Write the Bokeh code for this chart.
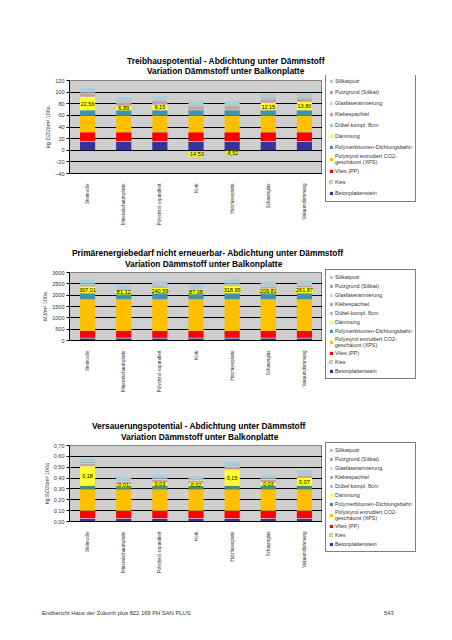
import math
from bokeh.plotting import figure
from bokeh.models import (ColumnDataSource, Range1d, FixedTicker, Legend, LegendItem,
                          LabelSet, Div, FactorRange, CustomJSTickFormatter)
from bokeh.layouts import column, row
from bokeh.core.properties import value
from bokeh.embed import file_html
from bokeh.resources import INLINE

FONT = "Liberation Sans"

categories = ["Steinwolle", "Mineralschaumplatte", "Polystyrol expandiert", "Kork",
              "Holzfaserplatte", "Schaumglas", "Vakuumdämmung"]

layers = ["Betonplattenstein", "Kies", "Vlies (PP)",
          "Polystyrol extrudiert CO2-\ngeschäumt (XPS)",
          "Polymerbitumen-Dichtungsbahn", "Dämmung", "Dübel kompl. 8cm",
          "Klebespachtel", "Glasfaserarmierung", "Putzgrund (Silikat)", "Silikatputz"]

colors = ["#33339A", "#FFFFDD", "#FF0000", "#FFC000", "#3E93AA", "#FFFF33",
          "#A9C4E0", "#C8A0A0", "#DADAC8", "#A8A8A8", "#A6CEDD"]
colors3 = ["#33339A", "#FFFFDD", "#FF0000", "#FFC000", "#4E8E6E", "#FFFF33",
           "#A9C4E0", "#C8A0A0", "#DADAC8", "#A8A8A8", "#A6CEDD"]

# Treibhauspotential (kg CO2ä/m² 100a): constant layers (None = Dämmung, varies)
gwp_layers = [14.5, 0.8, 15.7, 29.0, 9.0, None, 1.0, 5.5, 1.5, 1.0, 6.5]
gwp_daemmung = [22.56, 6.89, 9.15, -14.53, -8.52, 12.15, 13.80]
gwp_ticks = [-40, -20, 0, 20, 40, 60, 80, 100, 120]

# Primärenergiebedarf nicht erneuerbar (MJ/m² 100a)
pe_layers = [100, 20, 300, 1400, 260, None, 15, 60, 25, 20, 180]
pe_daemmung = [307.01, 81.12, 240.59, 87.08, 318.95, 209.81, 261.87]
pe_ticks = [0, 500, 1000, 1500, 2000, 2500, 3000]

# Versauerungspotential (kg SO2ä/m² 100a)
ap_layers = [0.025, 0.004, 0.071, 0.195, 0.035, None, 0.004, 0.02, 0.008, 0.006, 0.032]
ap_daemmung = [0.18, 0.01, 0.03, 0.02, 0.15, 0.03, 0.07]
ap_ticks = [0.0, 0.1, 0.2, 0.3, 0.4, 0.5, 0.6, 0.7]

MAIN_W = 322
LEG_W = 114


def title_div(line1, line2, left1, left2, top1, top2, h):
    st = ("position:absolute;white-space:nowrap;font-family:'Liberation Sans';"
          "font-weight:bold;font-size:8.4px;line-height:1;color:#000;")
    html = ('<div style="position:relative;width:436px;height:%dpx;">'
            '<span style="%sleft:%dpx;top:%dpx;">%s</span>'
            '<span style="%sleft:%dpx;top:%dpx;">%s</span></div>'
            % (h, st, left1, top1, line1, st, left2, top2, line2))
    return Div(text=html, width=436, height=h, margin=0)


def make_chart(ylabel, layer_vals, daem, ticks, yr, height, b_top, frame_h,
               leg_vy, leg_lh, cols, fmt_js=None):
    b_bottom = height - b_top - frame_h
    p = figure(x_range=FactorRange(*categories), y_range=Range1d(*yr),
               width=MAIN_W, height=height,
               min_border_left=69, min_border_right=0,
               min_border_top=b_top, min_border_bottom=b_bottom,
               output_backend="svg", toolbar_location=None, title=None)
    p.background_fill_color = "#CFCFCF"
    p.border_fill_color = "white"
    p.outline_line_color = "#808080"

    n = len(categories)
    cum = [0.0] * n
    daem_pos = []
    for li, name in enumerate(layers):
        vals = daem if layer_vals[li] is None else [layer_vals[li]] * n
        bottoms, tops = [], []
        for j, v in enumerate(vals):
            if v > 0:
                bottoms.append(cum[j]); tops.append(cum[j] + v); cum[j] += v
            else:
                bottoms.append(0.0); tops.append(0.0)
        if layer_vals[li] is None:
            daem_pos = [((b + t) / 2 if v > 0 else v / 2) for b, t, v in zip(bottoms, tops, vals)]
        src = ColumnDataSource(dict(x=categories, bottom=bottoms, top=tops))
        p.vbar(x="x", bottom="bottom", top="top", width=0.42, source=src,
               fill_color=cols[li], line_color=None)

    lab_src = ColumnDataSource(dict(
        x=categories, y=daem_pos,
        t=[("%.2f" % v).replace(".", ",") for v in daem]))
    p.add_layout(LabelSet(x="x", y="y", text="t", source=lab_src,
                          text_align="center", text_baseline="middle",
                          text_font=value(FONT), text_font_size="5.5px",
                          text_color="black", background_fill_color="#FFFF00"))

    p.yaxis.ticker = FixedTicker(ticks=ticks)
    if fmt_js:
        p.yaxis.formatter = CustomJSTickFormatter(code=fmt_js)
    p.yaxis.axis_label = ylabel
    p.yaxis.axis_label_text_font = FONT
    p.yaxis.axis_label_text_font_size = "5.5px"
    p.yaxis.axis_label_text_font_style = "normal"
    p.yaxis.axis_label_text_color = "#333333"
    p.yaxis.axis_label_standoff = 1
    p.yaxis.major_label_text_font = FONT
    p.yaxis.major_label_text_font_size = "5.5px"
    p.yaxis.major_label_text_color = "#333333"
    p.yaxis.major_tick_out = 3
    p.yaxis.major_tick_in = 0
    p.yaxis.minor_tick_line_color = None
    p.yaxis.axis_line_color = "black"
    p.yaxis.major_label_standoff = 2

    p.xaxis.major_label_orientation = math.pi / 2
    p.xaxis.major_label_text_font = FONT
    p.xaxis.major_label_text_font_size = "4.5px"
    p.xaxis.major_label_text_color = "#333333"
    p.xaxis.major_tick_line_color = None
    p.xaxis.axis_line_color = "black"
    p.xaxis.major_label_standoff = 4

    p.xgrid.grid_line_color = None
    p.ygrid.ticker = FixedTicker(ticks=ticks)
    p.ygrid.grid_line_color = "black"
    p.ygrid.grid_line_width = 1

    # legend panel: a small figure whose frame is its whole canvas
    lf = figure(width=LEG_W, height=height, x_range=Range1d(0, 1), y_range=Range1d(0, 1),
                min_border_left=0, min_border_right=0,
                min_border_top=0, min_border_bottom=0, x_axis_type=None,
                y_axis_type=None, output_backend="svg", toolbar_location=None,
                title=None)
    if "frame_align" in lf.properties():
        lf.frame_align = False
    lf.outline_line_color = None
    lf.border_fill_alpha = 0
    lf.background_fill_alpha = 0
    items = []
    for li in reversed(range(len(layers))):
        # proxy glyph outside the visible range, only for the legend swatch
        r = lf.vbar(x=[5], bottom=[3], top=[4], width=0.5, fill_color=cols[li],
                    line_color="#999966" if li == 1 else None)
        items.append(LegendItem(label=layers[li], renderers=[r]))
    leg = Legend(items=items, location=(3, leg_vy),
                 label_text_font=FONT, label_text_font_size="5.4px",
                 label_text_color="#333333",
                 glyph_width=4, glyph_height=4, label_height=leg_lh,
                 spacing=1, padding=3, margin=0, label_standoff=2,
                 border_line_color="black", border_line_width=1,
                 background_fill_color="white", background_fill_alpha=1)
    lf.add_layout(leg)
    return row(p, lf, spacing=0)


t1 = title_div("Treibhauspotential - Abdichtung unter Dämmstoff",
               "Variation Dämmstoff unter Balkonplatte", 127, 147, 57, 67, 75)
c1 = make_chart("kg CO2äm² 100a", gwp_layers, gwp_daemmung, gwp_ticks, (-40, 120),
                153, 5, 93, 26, 10, colors)
t2 = title_div("Primärenergiebedarf nicht erneuerbar- Abdichtung unter Dämmstoff",
               "Variation Dämmstoff unter Balkonplatte", 72, 125, 21, 32, 40)
c2 = make_chart("MJ/m² 100a", pe_layers, pe_daemmung, pe_ticks, (0, 3000),
                127, 4, 74, 16, 8, colors)
t3 = title_div("Versauerungspotential - Abdichtung unter Dämmstoff",
               "Variation Dämmstoff unter Balkonplatte", 92, 121, 27, 38, 45)
c3 = make_chart("kg SO2äm² 100a", ap_layers, ap_daemmung, ap_ticks, (0, 0.7),
                160, 5, 76, 48, 8, colors3,
                fmt_js="return tick.toFixed(2).replace('.', ',');")

footer = Div(text=('<div style="position:relative;width:436px;height:24px;'
                   'font-family:\'Liberation Sans\';font-size:5.8px;color:#333">'
                   '<span style="position:absolute;left:42px;top:9px;">'
                   'Endbericht Haus der Zukunft plus 822 169 PH SAN PLUS</span>'
                   '<span style="position:absolute;left:384px;top:9px;">543</span></div>'),
             width=436, height=24, margin=0)

layout = column(t1, c1, t2, c2, t3, c3, footer, spacing=0)
open("out.html", "w").write(file_html(layout, INLINE))
